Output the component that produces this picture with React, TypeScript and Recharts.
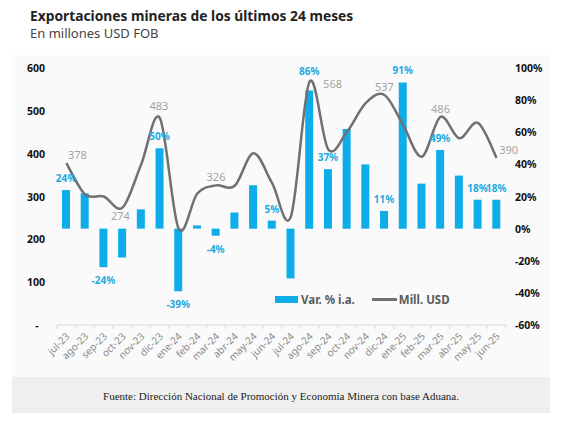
import React from 'react';
import {
  ComposedChart,
  Bar,
  Line,
  XAxis,
  YAxis,
  Legend,
  LabelList,
} from 'recharts';

// ---------- data ----------
const months = [
  'jul-23', 'ago-23', 'sep-23', 'oct-23', 'nov-23', 'dic-23',
  'ene-24', 'feb-24', 'mar-24', 'abr-24', 'may-24', 'jun-24',
  'jul-24', 'ago-24', 'sep-24', 'oct-24', 'nov-24', 'dic-24',
  'ene-25', 'feb-25', 'mar-25', 'abr-25', 'may-25', 'jun-25',
];
// Var. % i.a.
const varPct = [
  24, 22, -24, -18, 12, 50,
  -39, 2, -4.4, 10, 27, 5,
  -31, 86, 37, 62, 40, 11,
  91, 28, 49, 33, 18, 18,
];
// Mill. USD
const millUsd = [
  378, 305, 300, 274, 375, 483,
  225, 307, 326, 325, 401, 331,
  253, 568, 410, 451, 518, 537,
  467, 393, 486, 436, 472, 390,
];
const varLabelMonths = ['jul-23', 'sep-23', 'dic-23', 'ene-24', 'mar-24', 'jun-24', 'ago-24', 'sep-24', 'dic-24', 'ene-25', 'mar-25', 'may-25', 'jun-25'];
const millLabelMonths = ['jul-23', 'oct-23', 'dic-23', 'mar-24', 'ago-24', 'dic-24', 'mar-25', 'jun-25'];
const leftTicks = [0, 100, 200, 300, 400, 500, 600];
const rightTicks = [-60, -40, -20, 0, 20, 40, 60, 80, 100];

const data = months.map((m, i) => ({ month: m, var: varPct[i], mill: millUsd[i] }));

// ---------- styles ----------
const FONT = '"Noto Sans", sans-serif';
const BAR_COLOR = '#0DADEA';
const BAR_LABEL = '#1CA9DE';
const LINE_COLOR = '#707070';
const LINE_LABEL = '#A3A3A3';

// Excel-like smooth curve (Catmull-Rom through points)
function smoothCurve(context: any) {
  let pts: number[][] = [];
  return {
    areaStart() {},
    areaEnd() {},
    lineStart() {
      pts = [];
    },
    point(x: number, y: number) {
      pts.push([+x, +y]);
    },
    lineEnd() {
      const n = pts.length;
      if (!n) return;
      context.moveTo(pts[0][0], pts[0][1]);
      for (let i = 0; i < n - 1; i++) {
        const p0 = pts[i - 1] || pts[i];
        const p1 = pts[i];
        const p2 = pts[i + 1];
        const p3 = pts[i + 2] || p2;
        context.bezierCurveTo(
          p1[0] + (p2[0] - p0[0]) / 6,
          p1[1] + (p2[1] - p0[1]) / 6,
          p2[0] - (p3[0] - p1[0]) / 6,
          p2[1] - (p3[1] - p1[1]) / 6,
          p2[0],
          p2[1]
        );
      }
    },
  };
}

const XTick = (props: any) => {
  const { x, y, payload, index } = props;
  const half = 449 / 24 / 2;
  return (
    <g>
      <line x1={x - half} x2={x - half} y1={y} y2={y + 4} stroke="#d9d9d9" />
      {index === months.length - 1 && (
        <line x1={x + half} x2={x + half} y1={y} y2={y + 4} stroke="#d9d9d9" />
      )}
      <text
        x={x + 4}
        y={y + 12}
        textAnchor="end"
        transform={`rotate(-45 ${x + 4} ${y + 12})`}
        fontSize={10}
        fill="#8a8a8a"
        fontFamily={FONT}
      >
        {payload.value}
      </text>
    </g>
  );
};

const LeftTick = (props: any) => {
  const { x, y, payload } = props;
  if (payload.value === 0) {
    return (
      <text x={x - 8} y={y} dy={4} textAnchor="middle" fontSize={10.5} fontWeight={700} fill="#111" fontFamily={FONT}>
        -
      </text>
    );
  }
  return (
    <text x={x} y={y} dy={4} textAnchor="end" fontSize={10.5} fontWeight={700} fill="#111" fontFamily={FONT}>
      {payload.value}
    </text>
  );
};

const RightTick = (props: any) => {
  const { x, y, payload } = props;
  return (
    <text x={x} y={y} dy={4} textAnchor="start" fontSize={10.5} fontWeight={700} fill="#111" fontFamily={FONT}>
      {`${payload.value}%`}
    </text>
  );
};

const BarLabel = (props: any) => {
  const { x, y, width, height, value, index } = props;
  if (!varLabelMonths.includes(months[index])) return null;
  const top = Math.min(y, y + height);
  const bottom = Math.max(y, y + height);
  const cx = x + width / 2;
  const extraUp = months[index] === 'ago-24' ? 7 : 0;
  const ty = value >= 0 ? top - 8 - extraUp : bottom + 17;
  return (
    <text x={cx} y={ty} textAnchor="middle" fontSize={10} fontWeight={700} fill={BAR_LABEL} fontFamily={FONT}>
      {`${Math.round(value)}%`}
    </text>
  );
};

const millOffsets: Record<string, [number, number]> = {
  'jul-23': [11, -8],
  'oct-23': [-2, 8],
  'dic-23': [-1, -12],
  'ago-24': [23, 2],
  'jun-25': [12, -8],
};

const LineLabel = (props: any) => {
  const { x, y, value, index } = props;
  const m = months[index];
  if (!millLabelMonths.includes(m)) return null;
  const [dx, dy] = millOffsets[m] || [0, -8];
  return (
    <text x={x + dx} y={y + dy} dy={4} textAnchor="middle" fontSize={11} fill={LINE_LABEL} fontFamily={FONT}>
      {value}
    </text>
  );
};

const LegendContent = () => (
  <div style={{ display: 'flex', alignItems: 'center', fontFamily: FONT, fontSize: 11.5, fontWeight: 700, color: '#5a5a5a' }}>
    <span style={{ display: 'inline-block', width: 23, height: 7, background: BAR_COLOR, marginRight: 3 }} />
    <span>Var. % i.a.</span>
    <span style={{ display: 'inline-block', width: 25, height: 3, background: LINE_COLOR, marginLeft: 17, marginRight: 2 }} />
    <span>Mill. USD</span>
  </div>
);

export default function App() {
  return (
    <div style={{ position: 'absolute', left: 0, top: 0, width: 563, height: 425, background: '#fff', overflow: 'hidden' }}>
      <div style={{ position: 'absolute', left: 30, top: 6, fontFamily: FONT, fontSize: 13.8, fontWeight: 700, color: '#222', whiteSpace: 'nowrap', lineHeight: '20px' }}>
        Exportaciones mineras de los últimos 24 meses
      </div>
      <div style={{ position: 'absolute', left: 30, top: 24, fontFamily: FONT, fontSize: 13, color: '#444', whiteSpace: 'nowrap', lineHeight: '18px' }}>
        En millones USD FOB
      </div>
      <div style={{ position: 'absolute', left: 12, top: 55, width: 538, height: 322, background: '#fafafa' }} />
      <div style={{ position: 'absolute', left: 12, top: 377, width: 538, height: 36, background: '#efefef' }} />
      <div style={{ position: 'absolute', left: 12, top: 378, width: 538, height: 36, lineHeight: '36px', textAlign: 'center', fontFamily: '"Liberation Serif", serif', fontSize: 11, color: '#222', whiteSpace: 'nowrap' }}>
        Fuente: Dirección Nacional de Promoción y Economía Minera con base Aduana.
      </div>
      <div style={{ position: 'absolute', left: 0, top: 0 }}>
        <ComposedChart width={563} height={425} data={data} margin={{ top: 68, right: 0, bottom: 50, left: 0 }}>
          <XAxis
            dataKey="month"
            interval={0}
            tickSize={0}
            tickMargin={0}
            tickLine={false}
            axisLine={{ stroke: '#d9d9d9' }}
            tick={<XTick />}
            height={50}
          />
          <YAxis
            yAxisId="left"
            domain={[0, 600]}
            ticks={leftTicks}
            width={57}
            tickSize={0}
            tickMargin={12}
            axisLine={false}
            tickLine={false}
            tick={<LeftTick />}
          />
          <YAxis
            yAxisId="right"
            orientation="right"
            domain={[-60, 100]}
            ticks={rightTicks}
            width={57}
            tickSize={0}
            tickMargin={9}
            axisLine={false}
            tickLine={false}
            tick={<RightTick />}
          />
          <Legend
            layout="horizontal"
            verticalAlign="middle"
            align="center"
            content={<LegendContent />}
            wrapperStyle={{ position: 'absolute', left: 275, top: 292, width: 200, height: 16 }}
          />
          <Bar yAxisId="right" dataKey="var" name="Var. % i.a." fill={BAR_COLOR} barSize={8} isAnimationActive={false}>
            <LabelList dataKey="var" content={<BarLabel />} />
          </Bar>
          <Line
            yAxisId="left"
            dataKey="mill"
            name="Mill. USD"
            type={smoothCurve as any}
            stroke={LINE_COLOR}
            strokeWidth={2.5}
            dot={false}
            activeDot={false}
            isAnimationActive={false}
          >
            <LabelList dataKey="mill" content={<LineLabel />} />
          </Line>
        </ComposedChart>
      </div>
    </div>
  );
}
